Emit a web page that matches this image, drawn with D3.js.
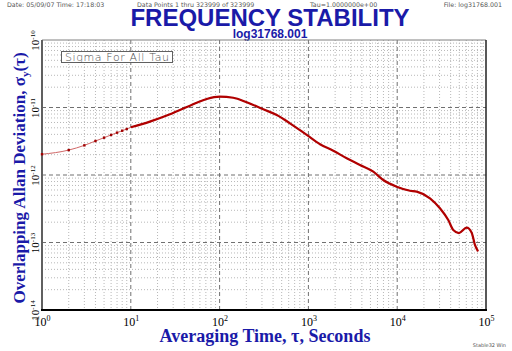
<!DOCTYPE html>
<html>
<head>
<meta charset="utf-8">
<script src="https://cdn.jsdelivr.net/npm/d3@7"></script>
<style>
  body { margin: 0; background: #fff; }
  svg { display: block; }
  .hdr { font-family: "DejaVu Sans", sans-serif; font-size: 6.3px; fill: #555; }
  .serif { font-family: "Liberation Serif", "Times New Roman", serif; }
</style>
</head>
<body>
<svg id="chart" width="512" height="351"></svg>
<script>
// Averaging times (s) and overlapping Allan deviation
const tauValues = [1, 2, 3, 4, 5, 6, 7, 8, 9, 10, 16.4, 27.6, 46.4, 71.6, 100, 142.6, 202, 310, 440, 621, 957,
  1352, 1907, 2698, 3810, 5380, 6970, 9860, 13930, 16590, 23400, 30300, 37600, 42800, 49600, 60600, 69000, 75100, 81300];
const sigmaValues = [2.03e-12, 2.34e-12, 2.75e-12, 3.19e-12, 3.57e-12, 3.92e-12, 4.24e-12, 4.53e-12, 4.80e-12, 5.09e-12,
  6.17e-12, 7.92e-12, 1.064e-11, 1.336e-11, 1.445e-11, 1.396e-11, 1.194e-11, 9.40e-12, 7.74e-12, 5.83e-12, 3.92e-12,
  2.85e-12, 2.29e-12, 1.77e-12, 1.41e-12, 1.12e-12, 8.43e-13, 6.71e-13, 5.85e-13, 5.66e-13, 4.52e-13, 3.21e-13,
  2.15e-13, 1.53e-13, 1.38e-13, 1.66e-13, 1.40e-13, 9.2e-14, 7.4e-14];
const xTickExponents = [0, 1, 2, 3, 4, 5];
const yTickExponents = [-14, -13, -12, -11, -10];

const data = tauValues.map((t, i) => ({ tau: t, sigma: sigmaValues[i] }));

const svg = d3.select("#chart");
const pL = 42, pR = 486, pT = 40, pB = 310;

const x = d3.scaleLog().domain([1, 1e5]).range([pL, pR]);
const y = d3.scaleLog().domain([1e-14, 1e-10]).range([pB, pT]);

// header lines
svg.append("text").attr("class", "hdr").attr("x", 7).attr("y", 7).text("Date: 05/09/07   Time: 17:18:03");
svg.append("text").attr("class", "hdr").attr("x", 137).attr("y", 7).text("Data Points 1 thru 323999 of 323999");
svg.append("text").attr("class", "hdr").attr("x", 310).attr("y", 7).text("Tau=1.0000000e+00");
svg.append("text").attr("class", "hdr").attr("x", 502).attr("y", 7).attr("text-anchor", "end").text("File: log31768.001");
svg.append("text").attr("class", "hdr").attr("x", 506).attr("y", 347).attr("text-anchor", "end")
  .style("font-size", "5px").text("Stable32 Win");

// title
svg.append("text").attr("x", 270).attr("y", 26).attr("text-anchor", "middle")
  .style("font-family", "Liberation Sans, Arial, sans-serif").style("font-weight", "bold")
  .style("font-size", "24px").attr("fill", "#1a1aa8").text("FREQUENCY STABILITY");
svg.append("text").attr("x", 270).attr("y", 37.5).attr("text-anchor", "middle")
  .style("font-family", "Liberation Sans, Arial, sans-serif").style("font-weight", "bold")
  .style("font-size", "12px").attr("fill", "#1a1aa8").text("log31768.001");

// grid
const minorX = [], minorY = [];
for (let e = 0; e < 5; e++) for (let m = 2; m <= 9; m++) minorX.push(m * Math.pow(10, e));
for (let e = -14; e < -10; e++) for (let m = 2; m <= 9; m++) minorY.push(m * Math.pow(10, e));

const grid = svg.append("g");
grid.selectAll(".mx").data(minorX).enter().append("line")
  .attr("x1", d => x(d)).attr("x2", d => x(d)).attr("y1", pT).attr("y2", pB)
  .attr("stroke", "#b8b8b8").attr("stroke-dasharray", "1,2");
grid.selectAll(".my").data(minorY).enter().append("line")
  .attr("x1", pL).attr("x2", pR).attr("y1", d => y(d)).attr("y2", d => y(d))
  .attr("stroke", "#b8b8b8").attr("stroke-dasharray", "1,2");
grid.selectAll(".Mx").data(xTickExponents.slice(1, -1)).enter().append("line")
  .attr("x1", d => x(Math.pow(10, d))).attr("x2", d => x(Math.pow(10, d))).attr("y1", pT).attr("y2", pB)
  .attr("stroke", "#707070").attr("stroke-dasharray", "4,3");
grid.selectAll(".My").data(yTickExponents.slice(1, -1)).enter().append("line")
  .attr("x1", pL).attr("x2", pR).attr("y1", d => y(Math.pow(10, d))).attr("y2", d => y(Math.pow(10, d)))
  .attr("stroke", "#707070").attr("stroke-dasharray", "4,3");

// frame
svg.append("line").attr("x1", pL).attr("x2", pR).attr("y1", pT).attr("y2", pT).attr("stroke", "#808080");
svg.append("line").attr("x1", pR).attr("x2", pR).attr("y1", pT).attr("y2", pB).attr("stroke", "#202020").attr("stroke-width", 1.5);
svg.append("line").attr("x1", pL).attr("x2", pL).attr("y1", pT).attr("y2", pB + 1).attr("stroke", "#606060").attr("stroke-width", 2);
svg.append("line").attr("x1", pL - 1).attr("x2", pR + 1).attr("y1", pB).attr("y2", pB).attr("stroke", "#000").attr("stroke-width", 2);

// legend box
svg.append("rect").attr("x", 61.5).attr("y", 51.5).attr("width", 111).attr("height", 11)
  .attr("fill", "#fff").attr("stroke", "#606060");
svg.append("text").attr("x", 117).attr("y", 61).attr("text-anchor", "middle")
  .style("font-family", "DejaVu Sans, sans-serif").style("font-size", "11px").style("font-weight", 300)
  .attr("fill", "#505050").attr("textLength", 104).text("Sigma For All Tau");

// axes tick labels with superscripts
const xAxis = svg.append("g").attr("transform", `translate(0,${pB})`)
  .call(d3.axisBottom(x).tickValues(xTickExponents.map(e => Math.pow(10, e))).tickSize(0).tickPadding(0));
xAxis.select(".domain").remove();
xAxis.selectAll("text").text("").attr("class", "serif").attr("fill", "#000").attr("dy", 0).attr("y", 16)
  .style("font-size", "12px")
  .each(function(d) {
    const t = d3.select(this);
    t.append("tspan").text("10");
    t.append("tspan").attr("dy", -5).style("font-size", "8px").text(Math.round(Math.log10(d)));
  });

const yAxis = svg.append("g").attr("transform", `translate(${pL},0)`)
  .call(d3.axisLeft(y).tickValues(yTickExponents.map(e => Math.pow(10, e))).tickSize(0).tickPadding(0));
yAxis.select(".domain").remove();
yAxis.selectAll(".tick text").text("").attr("class", "serif").attr("fill", "#000")
  .attr("x", 0).attr("dy", 0).attr("text-anchor", "middle")
  .attr("transform", "translate(-3,0) rotate(-90)")
  .style("font-size", "11px")
  .each(function(d) {
    const t = d3.select(this);
    t.append("tspan").text("10");
    t.append("tspan").attr("dy", -4).style("font-size", "7px").text(Math.round(Math.log10(d)));
  });

// axis titles
svg.append("text").attr("class", "serif").attr("x", 265).attr("y", 341.5).attr("text-anchor", "middle")
  .style("font-size", "18px").style("font-weight", "bold").attr("fill", "#1a1aa8")
  .text("Averaging Time, τ, Seconds");
const yt = svg.append("text").attr("class", "serif").attr("text-anchor", "middle")
  .attr("transform", "translate(25,178) rotate(-90)").style("font-size", "17px").style("font-weight", "bold")
  .attr("fill", "#1a1aa8");
yt.append("tspan").text("Overlapping Allan Deviation, σ");
yt.append("tspan").attr("dy", 4).style("font-size", "11px").text("y");
yt.append("tspan").attr("dy", -4).text("(τ)");

// data
const line = d3.line().x(d => x(d.tau)).y(d => y(d.sigma)).curve(d3.curveMonotoneX);
svg.append("path").datum(data).attr("d", line).attr("fill", "none")
  .attr("stroke", "#d06868").attr("stroke-width", 1);
svg.append("path").datum(data.filter(d => d.tau >= 10)).attr("d", line).attr("fill", "none")
  .attr("stroke", "#b00000").attr("stroke-width", 2.2).attr("stroke-linejoin", "round");
svg.selectAll(".pt").data(data.filter(d => d.tau < 10)).enter().append("rect")
  .attr("x", d => x(d.tau) - 1.2).attr("y", d => y(d.sigma) - 1.2).attr("width", 2.4).attr("height", 2.4)
  .attr("fill", "#a00000");
</script>
</body>
</html>
